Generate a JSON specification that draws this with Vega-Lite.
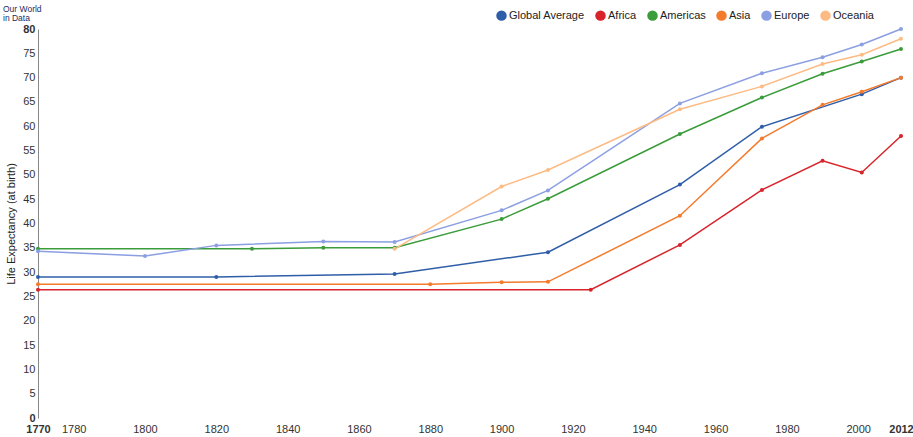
{
  "$schema": "https://vega.github.io/schema/vega-lite/v6.json",
  "width": 863,
  "height": 389,
  "autosize": {"type": "none"},
  "padding": {"left": 38, "top": 29, "right": 12, "bottom": 19},
  "background": "white",
  "title": {
    "text": ["Our World", "in Data"],
    "anchor": "start",
    "frame": "group",
    "fontSize": 8.5,
    "font": "Liberation Sans",
    "fontWeight": "normal",
    "color": "#1d2b5c",
    "lineHeight": 9,
    "dx": -35,
    "dy": 16,
    "offset": 4
  },
  "config": {
    "view": {"stroke": null},
    "font": "Liberation Sans"
  },
  "data": {
    "values": [
      {"region": "Global Average", "year": 1770, "value": 29.0},
      {"region": "Global Average", "year": 1820, "value": 29.0},
      {"region": "Global Average", "year": 1870, "value": 29.6},
      {"region": "Global Average", "year": 1913, "value": 34.1},
      {"region": "Global Average", "year": 1950, "value": 48.0},
      {"region": "Global Average", "year": 1973, "value": 59.9},
      {"region": "Global Average", "year": 2001, "value": 66.6},
      {"region": "Global Average", "year": 2012, "value": 70.0},
      {"region": "Africa", "year": 1770, "value": 26.4},
      {"region": "Africa", "year": 1925, "value": 26.4},
      {"region": "Africa", "year": 1950, "value": 35.6},
      {"region": "Africa", "year": 1973, "value": 46.9},
      {"region": "Africa", "year": 1990, "value": 52.9},
      {"region": "Africa", "year": 2001, "value": 50.5},
      {"region": "Africa", "year": 2012, "value": 58.0},
      {"region": "Americas", "year": 1770, "value": 34.8},
      {"region": "Americas", "year": 1830, "value": 34.8},
      {"region": "Americas", "year": 1850, "value": 35.0},
      {"region": "Americas", "year": 1870, "value": 35.0},
      {"region": "Americas", "year": 1900, "value": 40.9},
      {"region": "Americas", "year": 1913, "value": 45.1},
      {"region": "Americas", "year": 1950, "value": 58.4},
      {"region": "Americas", "year": 1973, "value": 65.9},
      {"region": "Americas", "year": 1990, "value": 70.8},
      {"region": "Americas", "year": 2001, "value": 73.3},
      {"region": "Americas", "year": 2012, "value": 75.9},
      {"region": "Asia", "year": 1770, "value": 27.5},
      {"region": "Asia", "year": 1880, "value": 27.5},
      {"region": "Asia", "year": 1900, "value": 27.9},
      {"region": "Asia", "year": 1913, "value": 28.0},
      {"region": "Asia", "year": 1950, "value": 41.6},
      {"region": "Asia", "year": 1973, "value": 57.5},
      {"region": "Asia", "year": 1990, "value": 64.4},
      {"region": "Asia", "year": 2001, "value": 67.1},
      {"region": "Asia", "year": 2012, "value": 70.0},
      {"region": "Europe", "year": 1770, "value": 34.3},
      {"region": "Europe", "year": 1800, "value": 33.3},
      {"region": "Europe", "year": 1820, "value": 35.5},
      {"region": "Europe", "year": 1850, "value": 36.3},
      {"region": "Europe", "year": 1870, "value": 36.2},
      {"region": "Europe", "year": 1900, "value": 42.7},
      {"region": "Europe", "year": 1913, "value": 46.8},
      {"region": "Europe", "year": 1950, "value": 64.7},
      {"region": "Europe", "year": 1973, "value": 70.9},
      {"region": "Europe", "year": 1990, "value": 74.2},
      {"region": "Europe", "year": 2001, "value": 76.8},
      {"region": "Europe", "year": 2012, "value": 80.0},
      {"region": "Oceania", "year": 1870, "value": 34.8},
      {"region": "Oceania", "year": 1900, "value": 47.6},
      {"region": "Oceania", "year": 1913, "value": 51.0},
      {"region": "Oceania", "year": 1950, "value": 63.5},
      {"region": "Oceania", "year": 1973, "value": 68.2},
      {"region": "Oceania", "year": 1990, "value": 72.8},
      {"region": "Oceania", "year": 2001, "value": 74.7},
      {"region": "Oceania", "year": 2012, "value": 78.0}
    ]
  },
  "mark": {"type": "line", "strokeWidth": 1.5, "point": {"filled": true, "size": 16}},
  "encoding": {
    "x": {
      "field": "year",
      "type": "quantitative",
      "scale": {"domain": [1770, 2012], "nice": false, "zero": false},
      "axis": {
        "title": null,
        "values": [1770, 1780, 1800, 1820, 1840, 1860, 1880, 1900, 1920, 1940, 1960, 1980, 2000, 2012],
        "format": "d",
        "domain": false,
        "ticks": false,
        "grid": false,
        "labelPadding": 5,
        "labelFontSize": 11,
        "labelColor": "#333",
        "labelFlush": false,
        "labelOverlap": false,
        "labelFontWeight": {"condition": {"test": "datum.value == 1770 || datum.value == 2012", "value": "bold"}, "value": "normal"}
      }
    },
    "y": {
      "field": "value",
      "type": "quantitative",
      "scale": {"domain": [0, 80], "nice": false},
      "axis": {
        "title": "Life Expectancy (at birth)",
        "titleFontSize": 11,
        "titleFontWeight": "normal",
        "titleColor": "#222",
        "titlePadding": 6,
        "values": [0, 5, 10, 15, 20, 25, 30, 35, 40, 45, 50, 55, 60, 65, 70, 75, 80],
        "domainColor": "#888",
        "domainWidth": 1,
        "ticks": false,
        "grid": false,
        "labelPadding": 3,
        "labelFontSize": 11,
        "labelColor": "#333",
        "labelFontWeight": {"condition": {"test": "datum.value == 0 || datum.value == 80", "value": "bold"}, "value": "normal"}
      }
    },
    "color": {
      "field": "region",
      "type": "nominal",
      "scale": {
        "domain": ["Global Average", "Africa", "Americas", "Asia", "Europe", "Oceania"],
        "range": ["#2f5ea8", "#d8232a", "#3a9c3a", "#f47a2c", "#8b9fe2", "#fdbb84"]
      },
      "legend": {
        "title": null,
        "orient": "none",
        "legendX": 458,
        "legendY": -19,
        "direction": "horizontal",
        "symbolType": "circle",
        "symbolSize": 110,
        "symbolStrokeWidth": 0,
        "labelFontSize": 11,
        "labelColor": "#222",
        "columnPadding": 10,
        "labelOffset": 2
      }
    }
  }
}
